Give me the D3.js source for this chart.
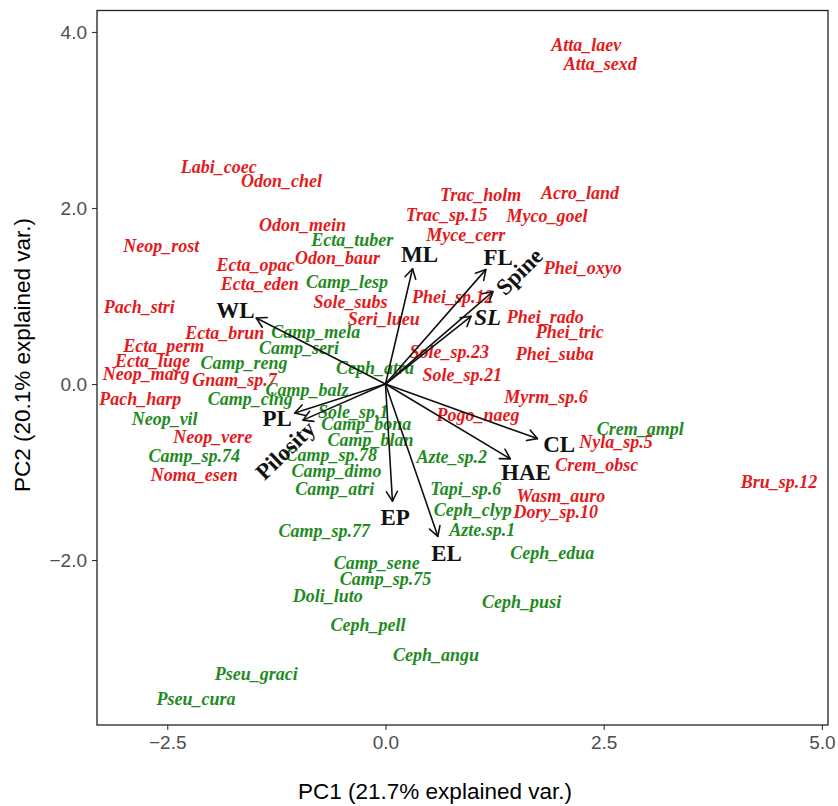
<!DOCTYPE html>
<html>
<head>
<meta charset="utf-8">
<script src="https://cdn.jsdelivr.net/npm/d3@7"></script>
<style>
  body { margin: 0; background: #fff; }
  text { font-kerning: normal; }
</style>
</head>
<body>
<svg id="chart" width="838" height="806"></svg>
<script>
// Species scores on the first two principal components
const redNames = ["Atta_laev","Atta_sexd","Labi_coec","Odon_chel","Trac_holm","Acro_land","Trac_sp.15","Myco_goel","Odon_mein","Myce_cerr","Neop_rost","Ecta_opac","Odon_baur","Phei_oxyo","Ecta_eden","Sole_subs","Pach_stri","Phei_sp.12","Seri_lueu","Phei_rado","Phei_tric","Ecta_brun","Ecta_perm","Ecta_luge","Neop_marg","Gnam_sp.7","Sole_sp.23","Phei_suba","Sole_sp.21","Pach_harp","Myrm_sp.6","Pogo_naeg","Neop_vere","Nyla_sp.5","Noma_esen","Crem_obsc","Bru_sp.12","Wasm_auro","Dory_sp.10"];
const redPC1 = [2.30,2.46,-1.91,-1.19,1.09,2.23,0.70,1.85,-0.95,0.92,-2.57,-1.49,-0.55,2.26,-1.44,-0.40,-2.82,0.77,-0.02,1.83,2.11,-1.84,-2.54,-2.67,-2.74,-1.73,0.73,1.94,0.88,-2.81,1.84,1.06,-1.98,2.64,-2.19,2.42,4.51,2.01,1.95];
const redPC2 = [3.86,3.64,2.47,2.31,2.15,2.17,1.92,1.91,1.81,1.70,1.57,1.36,1.44,1.32,1.14,0.94,0.88,0.99,0.74,0.76,0.60,0.58,0.44,0.26,0.12,0.05,0.37,0.35,0.11,-0.17,-0.14,-0.35,-0.60,-0.66,-1.03,-0.92,-1.11,-1.27,-1.45];

const greenNames = ["Ecta_tuber","Camp_lesp","Camp_mela","Camp_seri","Camp_reng","Ceph_atra","Camp_balz","Camp_cing","Neop_vil","Sole_sp.1","Camp_bona","Camp_blan","Camp_sp.78","Camp_sp.74","Camp_dimo","Camp_atri","Azte_sp.2","Tapi_sp.6","Ceph_clyp","Azte.sp.1","Camp_sp.77","Ceph_edua","Camp_sene","Camp_sp.75","Doli_luto","Ceph_pusi","Ceph_pell","Ceph_angu","Pseu_graci","Pseu_cura","Crem_ampl"];
const greenPC1 = [-0.38,-0.44,-0.80,-0.99,-1.62,-0.12,-0.90,-1.55,-2.53,-0.37,-0.22,-0.17,-0.62,-2.19,-0.56,-0.58,0.76,0.92,1.00,1.11,-0.70,1.91,-0.10,0.00,-0.66,1.56,-0.20,0.58,-1.48,-2.17,2.92];
const greenPC2 = [1.64,1.16,0.60,0.41,0.24,0.18,-0.06,-0.17,-0.39,-0.32,-0.45,-0.63,-0.80,-0.81,-0.98,-1.19,-0.82,-1.19,-1.43,-1.66,-1.67,-1.92,-2.03,-2.21,-2.40,-2.47,-2.73,-3.07,-3.29,-3.57,-0.51];

// Trait loading vectors and where their names sit
const traitNames = ["ML","FL","Spine","SL","WL","PL","Pilosity","EP","EL","CL","HAE"];
const traitPC1 = [0.31,1.15,1.23,0.98,-1.48,-1.04,-0.945,0.08,0.60,1.74,1.43];
const traitPC2 = [1.31,1.30,1.05,0.77,0.75,-0.33,-0.41,-1.33,-1.73,-0.62,-0.85];
const traitLabelPC1 = [0.39,1.29,1.53,1.17,-1.72,-1.24,-1.15,0.11,0.70,1.99,1.61];
const traitLabelPC2 = [1.48,1.44,1.28,0.76,0.84,-0.39,-0.75,-1.51,-1.92,-0.68,-1.00];

// Axis ticks and titles
const xTicks = [-2.5, 0, 2.5, 5];
const yTicks = [-2, 0, 2, 4];
const xTitle = "PC1 (21.7% explained var.)";
const yTitle = "PC2 (20.1% explained var.)";

// ---- drawing ----
const svg = d3.select("#chart");
const panel = { left: 97, right: 828, top: 10.5, bottom: 725 };

const x = d3.scaleLinear().domain([-3.305, 5.07]).range([panel.left, panel.right]);
const y = d3.scaleLinear().domain([-3.874, 4.244]).range([panel.bottom, panel.top]);
const fmt = d3.format(".1f");

const RED = "#E31A1C", GREEN = "#1F8B1F";
const labelFont = "'Liberation Serif','Times New Roman',serif";
const axisFont = "'Liberation Sans',Arial,sans-serif";

// axes
const xAxis = svg.append("g")
  .attr("transform", `translate(0,${panel.bottom})`)
  .call(d3.axisBottom(x).tickValues(xTicks).tickFormat(fmt).tickSize(5).tickPadding(6));
const yAxis = svg.append("g")
  .attr("transform", `translate(${panel.left},0)`)
  .call(d3.axisLeft(y).tickValues(yTicks).tickFormat(fmt).tickSize(5).tickPadding(5));
[xAxis, yAxis].forEach(g => {
  g.select(".domain").remove();
  g.selectAll(".tick line").attr("stroke", "#333").attr("stroke-width", 1.1);
  g.selectAll(".tick text").attr("fill", "#4D4D4D")
    .style("font-family", axisFont).style("font-size", "19px");
});

// species labels
function speciesLayer(names, pc1, pc2, color) {
  svg.append("g").selectAll("text")
    .data(names.map((n, i) => ({ n, a: pc1[i], b: pc2[i] })))
    .join("text")
    .attr("x", d => x(d.a))
    .attr("y", d => y(d.b))
    .attr("dy", "0.35em")
    .attr("text-anchor", "middle")
    .attr("fill", color)
    .style("font-family", labelFont)
    .style("font-weight", "bold")
    .style("font-style", "italic")
    .style("font-size", "18px")
    .text(d => d.n);
}
speciesLayer(redNames, redPC1, redPC2, RED);
speciesLayer(greenNames, greenPC1, greenPC2, GREEN);

// loading arrows
const traits = traitNames.map((n, i) => ({
  n, a: traitPC1[i], b: traitPC2[i], la: traitLabelPC1[i], lb: traitLabelPC2[i]
}));
const ox = x(0), oy = y(0);
const arrows = svg.append("g").attr("stroke", "#111").attr("stroke-width", 1.6)
  .attr("fill", "none").attr("stroke-linecap", "round").attr("stroke-linejoin", "round");
traits.forEach(t => {
  const tx = x(t.a), ty = y(t.b);
  const ang = Math.atan2(ty - oy, tx - ox);
  const L = 11, spread = Math.PI / 6;
  arrows.append("line").attr("x1", ox).attr("y1", oy).attr("x2", tx).attr("y2", ty);
  arrows.append("path").attr("d",
    `M${tx - L * Math.cos(ang - spread)},${ty - L * Math.sin(ang - spread)}` +
    `L${tx},${ty}` +
    `L${tx - L * Math.cos(ang + spread)},${ty - L * Math.sin(ang + spread)}`);
});

// trait names
const rotation = { Spine: -45, Pilosity: -44 };
const italic = { SL: true };
svg.append("g").selectAll("text")
  .data(traits)
  .join("text")
  .attr("transform", d => `translate(${x(d.la)},${y(d.lb)}) rotate(${rotation[d.n] || 0})`)
  .attr("dy", "0.35em")
  .attr("text-anchor", "middle")
  .attr("fill", "#111")
  .style("font-family", labelFont)
  .style("font-weight", "bold")
  .style("font-style", d => italic[d.n] ? "italic" : "normal")
  .style("font-size", "23px")
  .text(d => d.n);

// panel border
svg.append("rect")
  .attr("x", panel.left).attr("y", panel.top)
  .attr("width", panel.right - panel.left).attr("height", panel.bottom - panel.top)
  .attr("fill", "none").attr("stroke", "#222").attr("stroke-width", 1.3);

// axis titles
svg.append("text")
  .attr("x", 435).attr("y", 791).attr("dy", "0.35em")
  .attr("text-anchor", "middle").attr("fill", "#000")
  .style("font-family", axisFont).style("font-size", "22.5px")
  .text(xTitle);
svg.append("text")
  .attr("transform", "translate(22,355) rotate(-90)").attr("dy", "0.35em")
  .attr("text-anchor", "middle").attr("fill", "#000")
  .style("font-family", axisFont).style("font-size", "22.5px")
  .text(yTitle);
</script>
</body>
</html>
